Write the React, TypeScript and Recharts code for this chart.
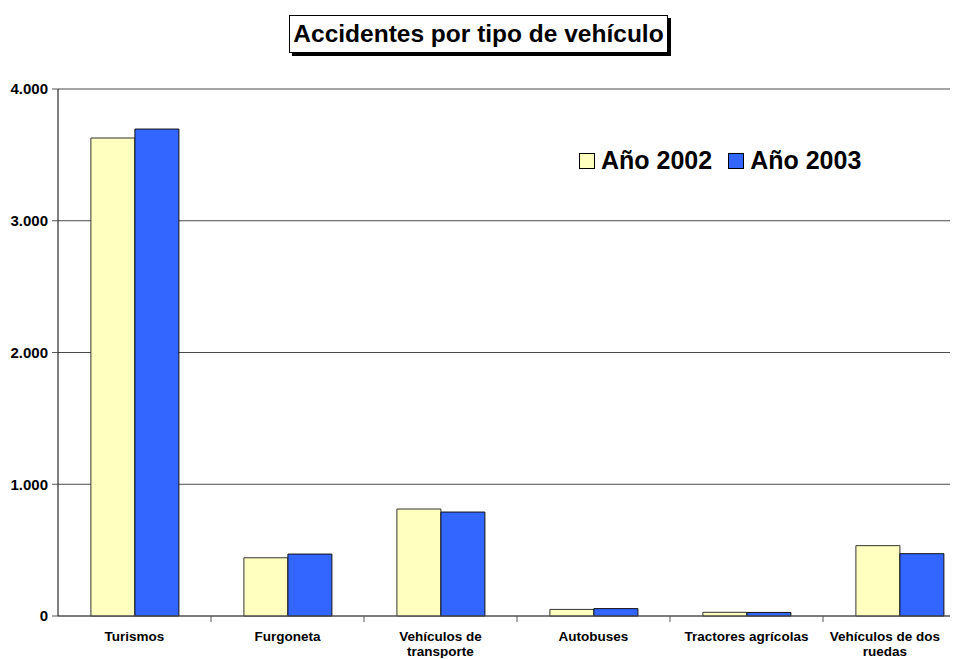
import { Bar, BarChart, CartesianGrid, XAxis, YAxis } from 'recharts';

const categories = [
  'Turismos',
  'Furgoneta',
  'Vehículos de transporte',
  'Autobuses',
  'Tractores agrícolas',
  'Vehículos de dos ruedas',
];
const year2002 = [3628, 442, 812, 50, 28, 534];
const year2003 = [3696, 470, 789, 56, 27, 473];
const yTicks = [0, 1000, 2000, 3000, 4000];

const labelLines: Record<string, string[]> = {
  'Vehículos de transporte': ['Vehículos de', 'transporte'],
  'Vehículos de dos ruedas': ['Vehículos de dos', 'ruedas'],
};

const data = categories.map((name, i) => ({
  name,
  y2002: year2002[i],
  y2003: year2003[i],
}));

const font = '"Liberation Sans", Arial, sans-serif';
const visibleRight = 944;

function fmt(v: number) {
  return v.toLocaleString('de-DE');
}

function CategoryTick(props: any) {
  const { x, y, payload } = props;
  const lines = labelLines[payload.value] ?? [payload.value];
  const half = payload.offset ?? 76;
  // keep the label inside the visible area like the original does
  const longest = Math.max(...lines.map((l) => l.length));
  const cx = Math.min(x, visibleRight - longest * 4.2);
  return (
    <g>
      <line x1={x + half} x2={x + half} y1={y - 8} y2={y - 2} stroke="#555" />
      <text
        x={cx}
        y={y + 17}
        textAnchor="middle"
        fontFamily={font}
        fontWeight="bold"
        fontSize={13.5}
        fill="#000"
      >
        {lines.map((l, i) => (
          <tspan key={i} x={cx} dy={i === 0 ? 0 : 15}>
            {l}
          </tspan>
        ))}
      </text>
    </g>
  );
}

function LegendBox() {
  const items = [
    { label: 'Año 2002', fill: '#FFFFC0' },
    { label: 'Año 2003', fill: '#3366FF' },
  ];
  return (
    <div
      style={{
        position: 'absolute',
        left: 571,
        top: 138,
        display: 'flex',
        gap: 16,
        fontFamily: font,
        fontWeight: 'bold',
        fontSize: 25,
        zIndex: 2,
      }}
    >
      {items.map((it) => (
        <div key={it.label} style={{ display: 'flex', alignItems: 'center', gap: 6 }}>
          <span
            style={{
              width: 14,
              height: 14,
              background: it.fill,
              border: '1px solid #000',
              display: 'inline-block',
            }}
          />
          <span>{it.label}</span>
        </div>
      ))}
    </div>
  );
}

export default function App() {
  return (
    <div style={{ width: 950, height: 651, overflow: 'hidden', position: 'relative', background: '#fff' }}>
      <div
        style={{
          position: 'absolute',
          left: 281,
          top: 7,
          width: 377,
          height: 36,
          border: '1px solid #000',
          boxShadow: '3px 3px 0 #000',
          background: '#fff',
          fontFamily: font,
          fontWeight: 'bold',
          fontSize: 24.5,
          lineHeight: '36px',
          textAlign: 'center',
          whiteSpace: 'nowrap',
          zIndex: 2,
        }}
      >
        Accidentes por tipo de vehículo
      </div>
      <LegendBox />
      <BarChart
        width={980}
        height={650}
        data={data}
        margin={{ top: 81, right: 12, bottom: 2, left: 0 }}
        barCategoryGap="21.5%"
        barGap={0}
      >
        <CartesianGrid horizontal vertical={false} stroke="#4a4a4a" strokeOpacity={1} />
        <XAxis
          dataKey="name"
          height={40}
          tickLine={false}
          axisLine={{ stroke: '#555' }}
          tick={<CategoryTick />}
          interval={0}
        />
        <YAxis
          width={50}
          domain={[0, 4000]}
          ticks={yTicks}
          tickFormatter={fmt}
          tickSize={6}
          tickLine={{ stroke: '#555' }}
          axisLine={{ stroke: '#000' }}
          tick={{ fontFamily: font, fontWeight: 'bold', fontSize: 15, fill: '#000', dx: -2 }}
        />
        <Bar dataKey="y2002" fill="#FFFFC0" stroke="#333" strokeWidth={1} isAnimationActive={false} />
        <Bar dataKey="y2003" fill="#3366FF" stroke="#111" strokeWidth={1} isAnimationActive={false} />
      </BarChart>
    </div>
  );
}
